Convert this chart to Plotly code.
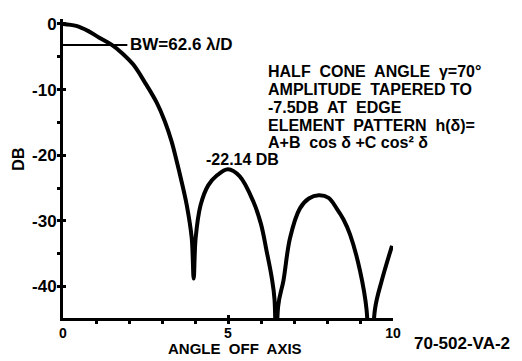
import plotly.graph_objects as go

# Pattern data (angle off axis vs. relative level in dB)
angle = [0.0, 0.4, 0.77, 1.1, 1.48, 1.8, 2.13, 2.48, 2.84, 3.09, 3.29, 3.44, 3.57,
         3.75, 3.9, 3.96, 4.02, 4.17, 4.4, 4.66, 5.0, 5.35, 5.77, 6.0, 6.17, 6.32,
         6.41, 6.46, 6.52, 6.68, 6.88, 7.18, 7.45, 7.75, 8.05, 8.29, 8.5, 8.7, 9.0,
         9.2, 9.31, 9.45, 9.66, 9.97]
level_db = [0.0, -0.3, -1.1, -2.1, -3.2, -4.5, -6.2, -8.9, -12.0, -14.9, -17.9, -20.8, -23.5,
            -27.6, -32.6, -38.8, -32.6, -27.6, -24.6, -23.1, -22.14, -23.2, -27.1, -30.5, -34.6, -38.5,
            -42.0, -60.0, -43.0, -39.1, -32.6, -28.1, -26.6, -26.1, -26.5, -28.1, -29.8, -32.1, -37.6,
            -43.6, -60.0, -43.6, -39.1, -33.8]

# Beamwidth marker line (-3 dB level)
bw_x = [0.0, 1.95]
bw_y = [-3.2, -3.2]

x_tickvals = [0, 5, 10]
x_ticktext = ["0", "5", "10"]
y_tickvals = [0, -10, -20, -30, -40]
y_ticktext = ["0", "-10", "-20", "-30", "-40"]

note_lines = ["HALF  CONE  ANGLE  γ=70°",
              "AMPLITUDE  TAPERED TO",
              "-7.5DB  AT  EDGE",
              "ELEMENT  PATTERN  h(δ)=",
              "A+B  cos δ +C cos² δ"]
note_line_db = [-7.3, -10.0, -12.8, -15.5, -18.1]

FONT = "Liberation Sans"


def f(size):
    return dict(family=FONT, size=size, color="black", weight="bold")


fig = go.Figure()
fig.add_trace(go.Scatter(x=angle, y=level_db, mode="lines",
                         line=dict(color="black", width=4, shape="spline", smoothing=1.0),
                         showlegend=False, hoverinfo="skip"))
fig.add_trace(go.Scatter(x=bw_x, y=bw_y, mode="lines",
                         line=dict(color="black", width=2), showlegend=False,
                         hoverinfo="skip"))

# page body has an 8px margin, so the figure is sized to fit the window
fig.update_layout(
    width=514, height=353,
    margin=dict(l=55, r=129, t=7, b=43),
    paper_bgcolor="white", plot_bgcolor="white",
    font=f(16),
    xaxis=dict(range=[0, 10], showgrid=False, zeroline=False,
               showline=True, linecolor="black", linewidth=3,
               tickvals=x_tickvals, ticktext=x_ticktext,
               ticks="inside", ticklen=3, tickwidth=3, tickcolor="black",
               minor=dict(dtick=1, tick0=0, ticks="outside", ticklen=3,
                          tickwidth=3, tickcolor="black", showgrid=False),
               tickfont=f(14)),
    yaxis=dict(range=[-44.8, 0.75], showgrid=False, zeroline=False,
               showline=True, linecolor="black", linewidth=3,
               tickvals=y_tickvals, ticktext=y_ticktext,
               ticks="inside", ticklen=3, tickwidth=3, tickcolor="black",
               minor=dict(dtick=5, tick0=0, ticks="outside", ticklen=3,
                          tickwidth=3, tickcolor="black", showgrid=False),
               tickfont=f(17)),
)

ann = [
    dict(x=1.97, y=-3.2, xref="x", yref="y", text="BW=62.6 λ/D", font=f(17),
         xanchor="left", yanchor="middle", showarrow=False),
    dict(x=4.27, y=-20.6, xref="x", yref="y", text="-22.14 DB", font=f(16),
         xanchor="left", yanchor="middle", showarrow=False),
    dict(x=0.521, y=-0.103, xref="paper", yref="paper", text="ANGLE  OFF  AXIS", font=f(15),
         xanchor="center", yanchor="middle", showarrow=False),
    dict(x=1.209, y=-0.085, xref="paper", yref="paper", text="70-502-VA-2", font=f(17),
         xanchor="center", yanchor="middle", showarrow=False),
    dict(x=-0.136, y=0.53, xref="paper", yref="paper", text="DB", textangle=-90, font=f(16),
         xanchor="center", yanchor="middle", showarrow=False),
]
for txt, ydb in zip(note_lines, note_line_db):
    ann.append(dict(x=6.15, y=ydb, xref="x", yref="y", text=txt, font=f(16),
                    xanchor="left", yanchor="middle", showarrow=False))
fig.update_layout(annotations=ann)

fig.write_html("out.html")
